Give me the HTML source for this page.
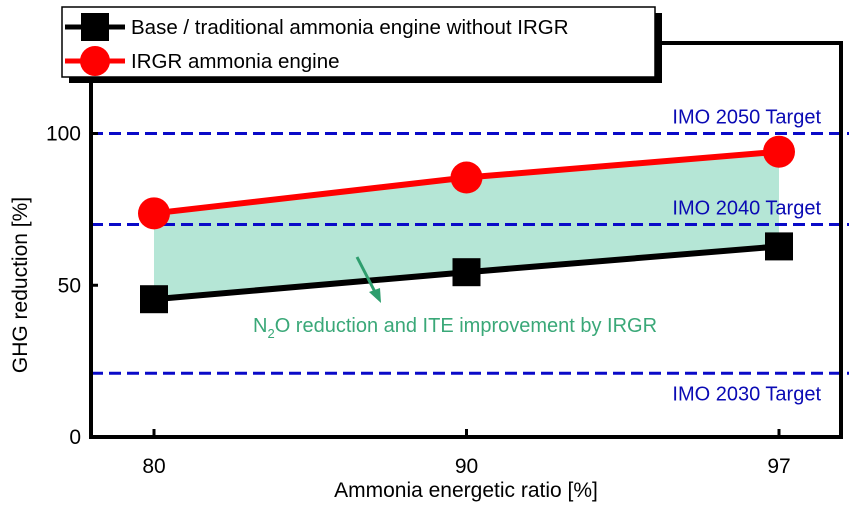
<!DOCTYPE html>
<html><head><meta charset="utf-8"><style>
body{margin:0;background:#fff;}
svg{display:block;font-family:"Liberation Sans",sans-serif;}
</style></head><body>
<svg id="chart" width="849" height="511" viewBox="0 0 849 511">
<g id="plot"></g>
</svg>
<script>
const categories = ["80","90","97"];
const baseValues = [45.4, 54.3, 62.8];
const irgrValues = [73.7, 85.5, 94.0];
const targetValues = [21, 70, 100];
const targetLabels = ["IMO 2030 Target","IMO 2040 Target","IMO 2050 Target"];
const yTicks = [0, 50, 100];

const NS="http://www.w3.org/2000/svg";
const g=document.getElementById('plot');
const L=91,R=841,T=43,B=437;
const catX=[154,468,779];
function x(i){return catX[0]+(catX[2]-catX[0])*i/(categories.length-1);}
function y(v){return B-v*3.035;}
function mk(tag,attrs,parent){const e=document.createElementNS(NS,tag);for(const k in attrs)e.setAttribute(k,attrs[k]);(parent||g).appendChild(e);return e;}

let pts=[];
irgrValues.forEach((v,i)=>pts.push(x(i)+','+y(v)));
for(let i=baseValues.length-1;i>=0;i--)pts.push(x(i)+','+y(baseValues[i]));
let band=mk('polygon',{points:pts.join(' '),fill:'#b5e6d6'});



targetValues.forEach((v,i)=>{
  let ln=mk('line',{x1:L,x2:849,y1:y(v),y2:y(v),stroke:'#0a0ac8','stroke-width':3,'stroke-dasharray':'12,6'});
  
  
  let ty = i===0 ? y(v)+27 : y(v)-10;
  let t=mk('text',{x:821,y:ty,'text-anchor':'end','font-size':20,fill:'#0a0ab4'});
  t.textContent=targetLabels[i];
  
  
});

function series(vals,color,name,shape){
  let p=mk('polyline',{points:vals.map((v,i)=>x(i)+','+y(v)).join(' '),fill:'none',stroke:color,'stroke-width':6});
  
  
  vals.forEach((v,i)=>{
    let m;
    if(shape==='sq') m=mk('rect',{x:x(i)-14,y:y(v)-14,width:28,height:28,fill:color});
    else m=mk('circle',{cx:x(i),cy:y(v),r:16,fill:color});
    
    
  });
}
series(baseValues,'#000','base-engine','sq');
series(irgrValues,'#f00','irgr-engine','ci');

let fr=mk('path',{d:`M${L},${T} H${R} V${B} H${L} Z`,fill:'none',stroke:'#000','stroke-width':4});


yTicks.forEach(v=>{
  mk('line',{x1:L,x2:L+7,y1:y(v),y2:y(v),stroke:'#000','stroke-width':3});
  let t=mk('text',{x:L-10,y:y(v)+7,'text-anchor':'end','font-size':21,fill:'#000'});
  t.textContent=v;
  
  
});
categories.forEach((c,i)=>{
  mk('line',{x1:x(i),x2:x(i),y1:B,y2:B-8,stroke:'#000','stroke-width':3});
  let t=mk('text',{x:x(i),y:B+36,'text-anchor':'middle','font-size':21,fill:'#000'});
  t.textContent=c;
  
  
});
let xt=mk('text',{x:466,y:497,'text-anchor':'middle','font-size':21,fill:'#000'});
xt.textContent='Ammonia energetic ratio [%]';


let yt=mk('text',{x:0,y:0,'text-anchor':'middle','font-size':21,fill:'#000',transform:'translate(27,285) rotate(-90)'});
yt.textContent='GHG reduction [%]';



let ar=mk('line',{x1:357,y1:257,x2:375,y2:292,stroke:'#2e9e6e','stroke-width':3});


mk('polygon',{points:'381,303 369,292 380,288',fill:'#2e9e6e'});
let an=mk('text',{x:253,y:332,'font-size':20,fill:'#3aa878'});
an.innerHTML='N<tspan font-size="13" dy="6">2</tspan><tspan dy="-6">O reduction and ITE improvement by IRGR</tspan>';



let lg=mk('g',{});


mk('rect',{x:69,y:13,width:593,height:70,fill:'#000'},lg);
mk('rect',{x:62,y:7,width:593,height:70,fill:'#fff',stroke:'#000','stroke-width':1.5},lg);
mk('line',{x1:65,x2:125,y1:27,y2:27,stroke:'#000','stroke-width':5},lg);
mk('rect',{x:81,y:13,width:28,height:28,fill:'#000'},lg);
mk('line',{x1:65,x2:125,y1:61,y2:61,stroke:'#f00','stroke-width':5},lg);
mk('circle',{cx:95,cy:61,r:15,fill:'#f00'},lg);
let l1=mk('text',{x:131,y:34,'font-size':20.5,fill:'#000'},lg);
l1.textContent='Base / traditional ammonia engine without IRGR';


let l2=mk('text',{x:131,y:68,'font-size':20.5,fill:'#000'},lg);
l2.textContent='IRGR ammonia engine';


</script>
</body></html>
